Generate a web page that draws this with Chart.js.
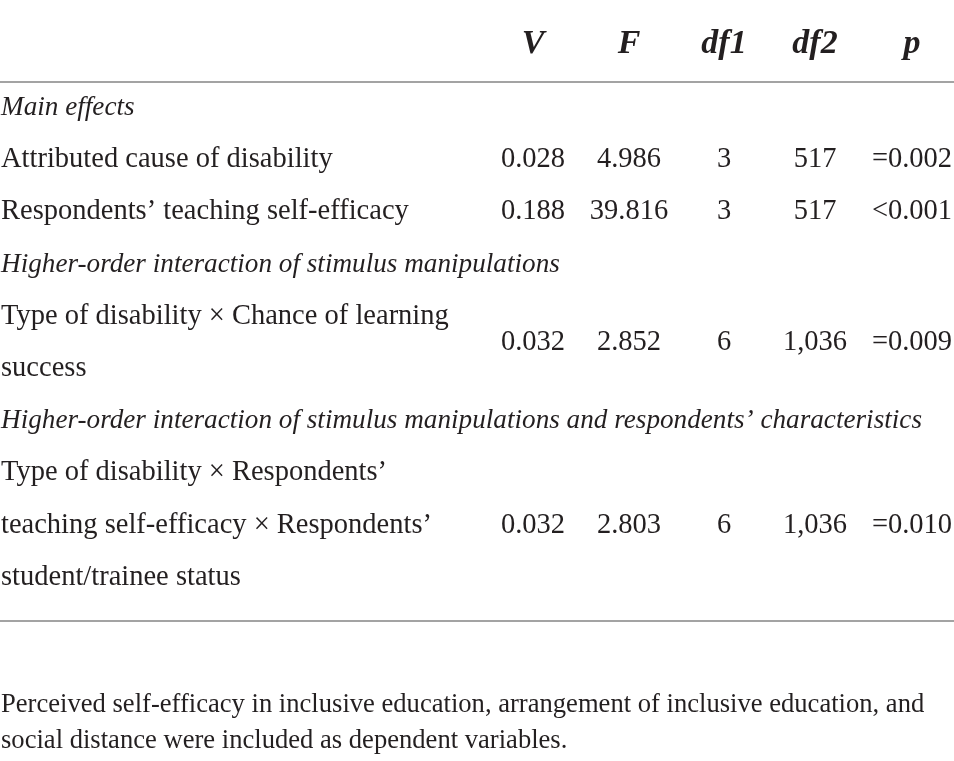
<!DOCTYPE html>
<html>
<head>
<meta charset="utf-8">
<script src="https://cdn.jsdelivr.net/npm/chart.js@4"></script>
<style>
  html, body { margin: 0; padding: 0; background: #fff; }
  #tableChart { display: block; }
</style>
</head>
<body>
<canvas id="tableChart" width="954" height="761"></canvas>
<script>
// table content
const headers = ["V", "F", "df1", "df2", "p"];
const groupTitles = [
  "Main effects",
  "Higher-order interaction of stimulus manipulations",
  "Higher-order interaction of stimulus manipulations and respondents’ characteristics",
];
const effectLabels = [
  ["Attributed cause of disability"],
  ["Respondents’ teaching self-efficacy"],
  ["Type of disability × Chance of learning", "success"],
  ["Type of disability × Respondents’", "teaching self-efficacy × Respondents’", "student/trainee status"],
];
const effectGroup = [0, 0, 1, 2];
const vValues = ["0.028", "0.188", "0.032", "0.032"];
const fValues = ["4.986", "39.816", "2.852", "2.803"];
const df1Values = ["3", "3", "6", "6"];
const df2Values = ["517", "517", "1,036", "1,036"];
const pValues = ["=0.002", "<0.001", "=0.009", "=0.010"];
const footnote = [
  "Perceived self-efficacy in inclusive education, arrangement of inclusive education, and",
  "social distance were included as dependent variables.",
];

document.addEventListener("DOMContentLoaded", function () {
  var textColor = "#231f20";
  var ruleColor = "#a3a3a3";
  var serif = "'Liberation Serif', 'DejaVu Serif', serif";

  // layout (in scale units = pixels)
  var colX = [533, 629, 724, 815, 912];
  var headerY = 53;
  var firstLineY = 115;
  var lineStep = 52.2;
  var ruleTop = 82;
  var ruleBottom = 621;
  var footY = [712, 748];

  var columns = [vValues, fValues, df1Values, df2Values, pValues];

  // build the text lines for the body
  var bodyLines = [];
  var valueRows = [];
  var line = 0;
  var lastGroup = -1;
  effectLabels.forEach(function (labels, i) {
    if (effectGroup[i] !== lastGroup) {
      lastGroup = effectGroup[i];
      bodyLines.push({ text: groupTitles[lastGroup], italic: true, y: firstLineY + line * lineStep });
      line++;
    }
    var start = line;
    labels.forEach(function (t) {
      bodyLines.push({ text: t, italic: false, y: firstLineY + line * lineStep });
      line++;
    });
    var mid = (start + line - 1) / 2;
    valueRows.push(firstLineY + mid * lineStep);
  });

  var tablePlugin = {
    id: "tableText",
    afterDatasetsDraw: function (chart) {
      var ctx = chart.ctx;
      var xs = chart.scales.x;
      var ys = chart.scales.y;
      ctx.save();
      ctx.fillStyle = textColor;
      ctx.textBaseline = "alphabetic";

      ctx.font = "italic bold 34px " + serif;
      ctx.textAlign = "center";
      headers.forEach(function (h, c) {
        ctx.fillText(h, xs.getPixelForValue(colX[c]), ys.getPixelForValue(headerY));
      });

      ctx.textAlign = "left";
      bodyLines.forEach(function (l) {
        ctx.font = l.italic ? "italic 27.2px " + serif : "28.5px " + serif;
        ctx.fillText(l.text, xs.getPixelForValue(1), ys.getPixelForValue(l.y));
      });

      ctx.font = "28.5px " + serif;
      ctx.textAlign = "center";
      columns.forEach(function (vals, c) {
        vals.forEach(function (v, r) {
          ctx.fillText(v, xs.getPixelForValue(colX[c]), ys.getPixelForValue(valueRows[r]));
        });
      });

      ctx.font = "26.6px " + serif;
      ctx.textAlign = "left";
      footnote.forEach(function (t, i) {
        ctx.fillText(t, xs.getPixelForValue(1), ys.getPixelForValue(footY[i]));
      });
      ctx.restore();
    },
  };

  var ctx = document.getElementById("tableChart").getContext("2d");
  new Chart(ctx, {
    type: "scatter",
    data: {
      datasets: [
        {
          data: [{ x: 0, y: ruleTop }, { x: 954, y: ruleTop }],
          showLine: true,
          borderColor: ruleColor,
          borderWidth: 2,
          pointRadius: 0,
        },
        {
          data: [{ x: 0, y: ruleBottom }, { x: 954, y: ruleBottom }],
          showLine: true,
          borderColor: ruleColor,
          borderWidth: 2,
          pointRadius: 0,
        },
      ],
    },
    options: {
      responsive: false,
      animation: false,
      layout: { padding: 0 },
      plugins: { legend: { display: false }, tooltip: { enabled: false } },
      scales: {
        x: { type: "linear", min: 0, max: 954, display: false },
        y: { type: "linear", min: 0, max: 761, reverse: true, display: false },
      },
    },
    plugins: [tablePlugin],
  });
});
</script>
</body>
</html>
